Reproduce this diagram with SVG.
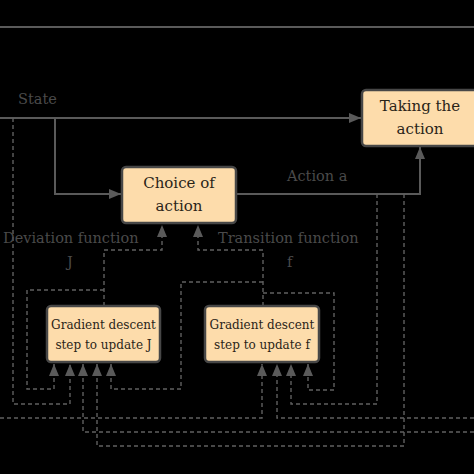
<svg xmlns="http://www.w3.org/2000/svg" width="474" height="474" viewBox="0 0 474 474">
<style>
.box{fill:#fddcab;stroke:#474747;stroke-width:2.5}
.bt{font-family:"DejaVu Serif","Liberation Serif",serif;fill:#2a2418;text-anchor:middle}
.lbl{font-family:"DejaVu Serif","Liberation Serif",serif;fill:#4a4a4a;font-size:14.5px}
.solid{fill:none;stroke:#5a5a5a;stroke-width:2}
.dash{fill:none;stroke:#606060;stroke-width:1.4;stroke-dasharray:4 3}
</style>
<defs>
<marker id="ah" viewBox="0 0 12 10" refX="12" refY="5" markerWidth="12" markerHeight="10" markerUnits="userSpaceOnUse" orient="auto">
<path d="M0,0 L12,5 L0,10 z" fill="#5a5a5a"/>
</marker>
</defs>
<rect width="474" height="474" fill="#000"/>
<g id="connectors">
<line class="solid" x1="0" y1="27" x2="474" y2="27" stroke-width="1.6"/>
<path class="solid" d="M0,118 H361" marker-end="url(#ah)"/>
<path class="solid" d="M55,118 V194 H121" marker-end="url(#ah)"/>
<path class="solid" d="M237,194 H420 V147" marker-end="url(#ah)"/>
<path class="dash" d="M13,118 V404 H70 V364" marker-end="url(#ah)"/>
<path class="dash" d="M104,306 V250 H162 V225" marker-end="url(#ah)"/>
<path class="dash" d="M104,290 H27 V389 H54 V364" marker-end="url(#ah)"/>
<path class="dash" d="M263,306 V250 H198 V225" marker-end="url(#ah)"/>
<path class="dash" d="M263,282 H181 V389 H111 V364" marker-end="url(#ah)"/>
<path class="dash" d="M263,293 H334 V390 H308 V364" marker-end="url(#ah)"/>
<path class="dash" d="M377,194 V404 H291 V364" marker-end="url(#ah)"/>
<path class="dash" d="M404,194 V446 H97 V364" marker-end="url(#ah)"/>
<path class="dash" d="M474,432 H83 V364" marker-end="url(#ah)"/>
<path class="dash" d="M0,418 H262 V364" marker-end="url(#ah)"/>
<path class="dash" d="M474,418 H277 V364" marker-end="url(#ah)"/>
</g>
<g id="taking">
<rect class="box" x="362" y="90" width="116" height="56" rx="4"/>
<text class="bt" x="420" y="111" font-size="15">Taking the</text>
<text class="bt" x="420" y="134" font-size="15">action</text>
</g>
<g id="choice">
<rect class="box" x="122" y="167" width="114" height="56" rx="4"/>
<text class="bt" x="179" y="188" font-size="15">Choice of</text>
<text class="bt" x="179" y="211" font-size="15">action</text>
</g>
<g id="gradJ">
<rect class="box" x="47" y="306" width="113" height="56" rx="4"/>
<text class="bt" x="103.5" y="329" font-size="12">Gradient descent</text>
<text class="bt" x="103.5" y="349" font-size="12">step to update J</text>
</g>
<g id="gradF">
<rect class="box" x="205" y="306" width="114" height="56" rx="4"/>
<text class="bt" x="262" y="329" font-size="12">Gradient descent</text>
<text class="bt" x="262" y="349" font-size="12">step to update f</text>
</g>
<g id="labels">
<text class="lbl" x="18" y="104">State</text>
<text class="lbl" x="287" y="181">Action a</text>
<text class="lbl" x="3" y="243">Deviation function</text>
<text class="lbl" x="67" y="267">J</text>
<text class="lbl" x="218" y="243">Transition function</text>
<text class="lbl" x="287" y="267">f</text>
</g>
</svg>
